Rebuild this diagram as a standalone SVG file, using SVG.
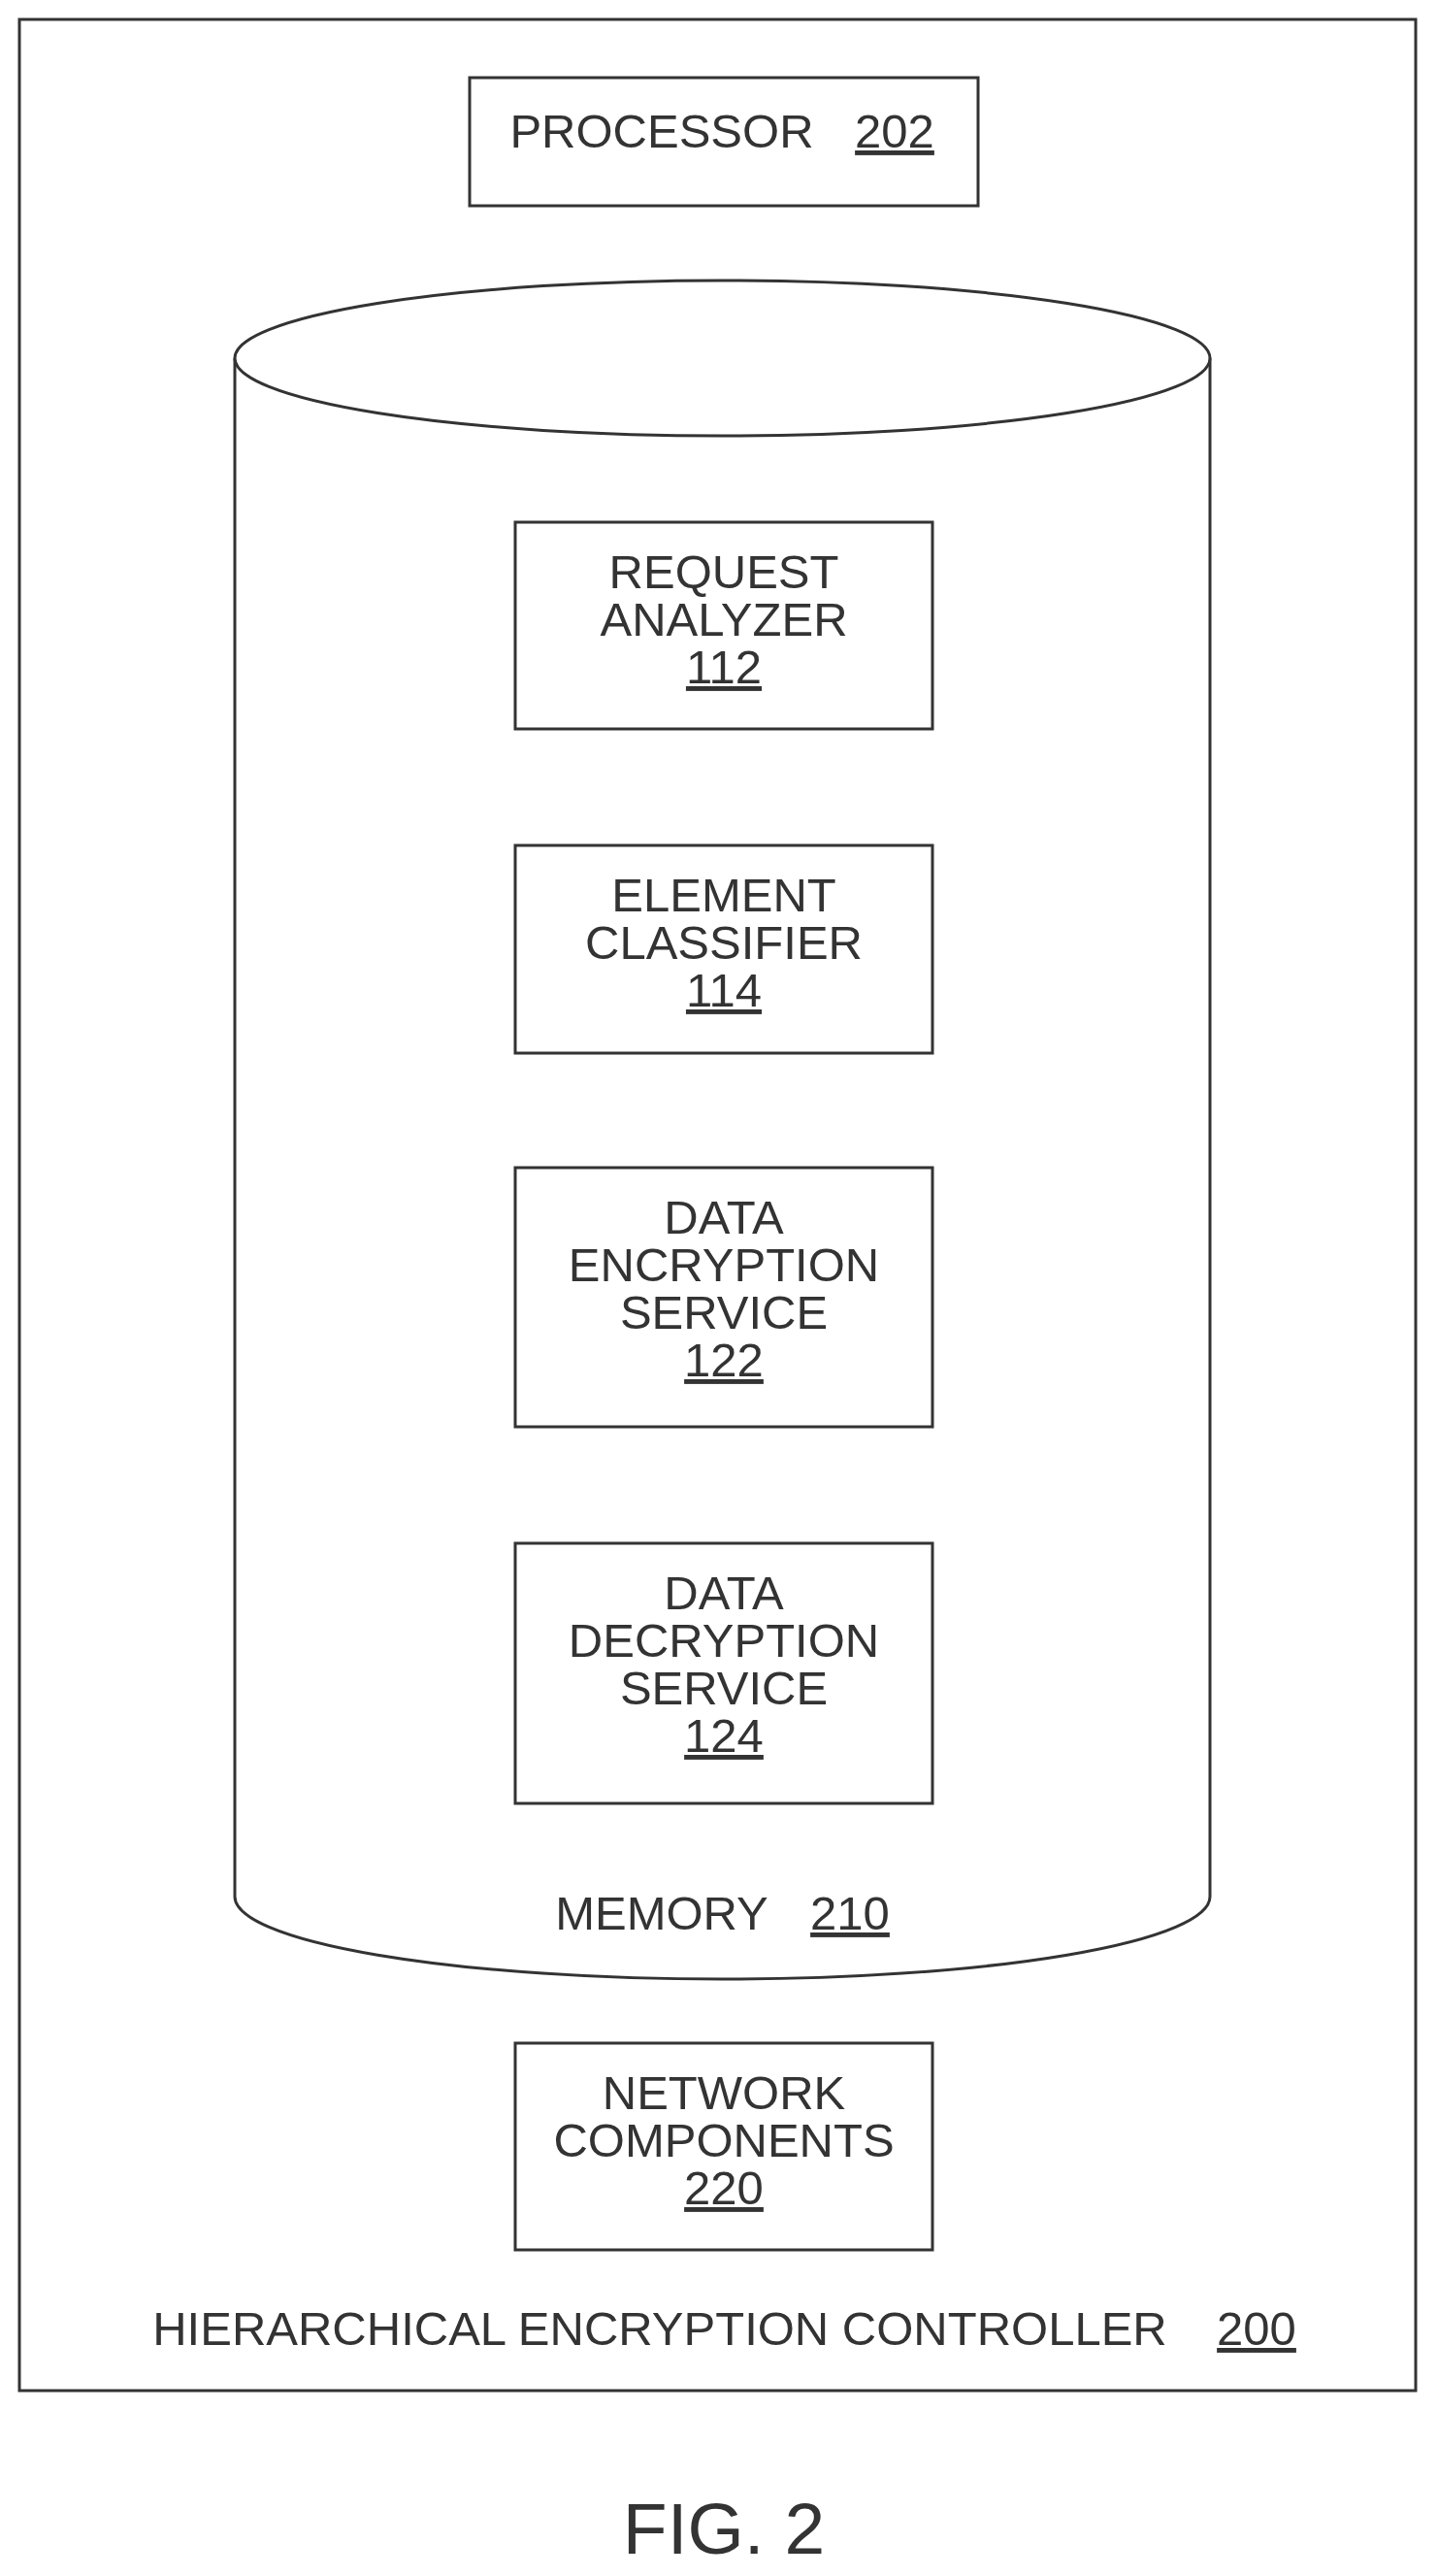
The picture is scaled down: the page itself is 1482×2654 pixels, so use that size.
<svg xmlns="http://www.w3.org/2000/svg" width="1482" height="2654" viewBox="0 0 1482 2654">
<style>
.b{fill:#fff;stroke:#333;stroke-width:3}
.t{font-family:"Liberation Sans",Arial,sans-serif;font-size:49px;fill:#333;text-anchor:middle}
.u{text-decoration:underline}
</style>
<rect width="1482" height="2654" fill="#fff"/>
<g id="controller"><rect class="b" x="20" y="20" width="1439" height="2443"/>
<text class="t" x="680" y="2416">HIERARCHICAL ENCRYPTION CONTROLLER</text><text class="t u" x="1295" y="2416">200</text></g>
<g id="processor"><rect class="b" x="484" y="80" width="524" height="132"/>
<text class="t" x="682" y="152">PROCESSOR</text><text class="t u" x="922" y="152">202</text></g>
<g id="memory">
<path class="b" d="M242 369 L242 1954 A502 85 0 0 0 1247 1954 L1247 369"/>
<ellipse class="b" cx="744.5" cy="369" rx="502.5" ry="80"/>
<text class="t" x="682" y="1988">MEMORY</text><text class="t u" x="876" y="1988">210</text></g>
<g id="n112"><rect class="b" x="531" y="538" width="430" height="213"/>
<text class="t" x="746" y="606">REQUEST</text><text class="t" x="746" y="655">ANALYZER</text><text class="t u" x="746" y="704">112</text></g>
<g id="n114"><rect class="b" x="531" y="871" width="430" height="214"/>
<text class="t" x="746" y="939">ELEMENT</text><text class="t" x="746" y="988">CLASSIFIER</text><text class="t u" x="746" y="1037">114</text></g>
<g id="n122"><rect class="b" x="531" y="1203" width="430" height="267"/>
<text class="t" x="746" y="1271">DATA</text><text class="t" x="746" y="1320">ENCRYPTION</text><text class="t" x="746" y="1369">SERVICE</text><text class="t u" x="746" y="1418">122</text></g>
<g id="n124"><rect class="b" x="531" y="1590" width="430" height="268"/>
<text class="t" x="746" y="1658">DATA</text><text class="t" x="746" y="1707">DECRYPTION</text><text class="t" x="746" y="1756">SERVICE</text><text class="t u" x="746" y="1805">124</text></g>
<g id="n220"><rect class="b" x="531" y="2105" width="430" height="213"/>
<text class="t" x="746" y="2173">NETWORK</text><text class="t" x="746" y="2222">COMPONENTS</text><text class="t u" x="746" y="2271">220</text></g>
<g id="connectors"></g>
<text class="t" x="746" y="2631" style="font-size:75px">FIG. 2</text>
</svg>
